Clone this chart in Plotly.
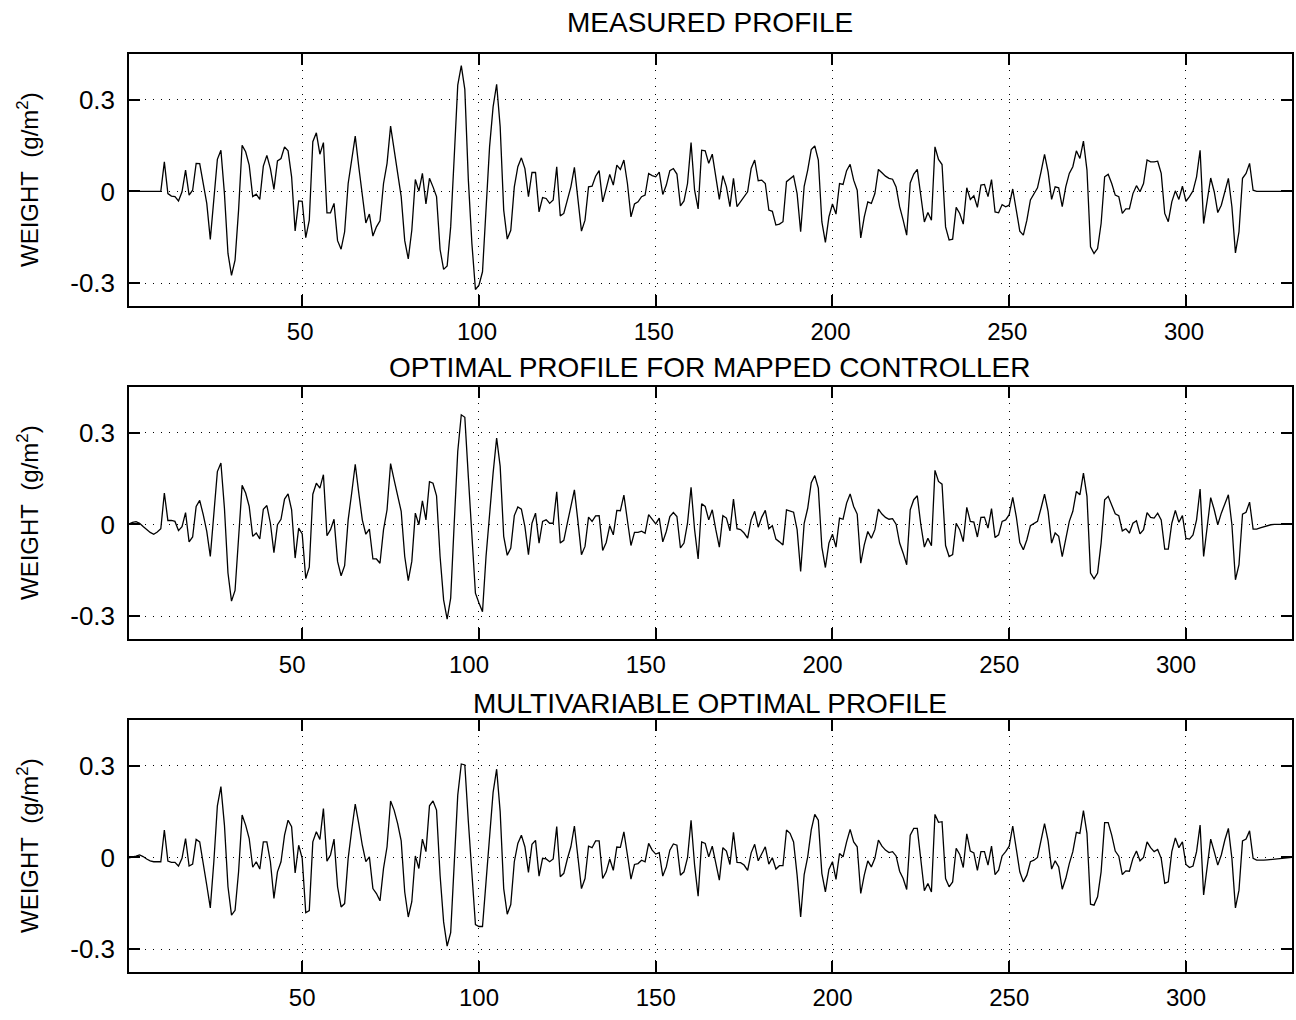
import plotly.graph_objects as go

# ---------------- data ----------------
x_index = list(range(1, 331))

measured = [
0,0,0,0,0,0,0,0,0,0,
0.097,-0.007,-0.015,-0.017,-0.031,-0.001,0.070,-0.012,0.004,0.092,
0.091,0.026,-0.039,-0.157,-0.028,0.105,0.135,-0.007,-0.203,-0.275,
-0.225,-0.061,0.151,0.130,0.086,-0.017,-0.009,-0.026,0.083,0.118,
0.075,0.007,0.100,0.108,0.146,0.133,0.048,-0.129,-0.031,-0.032,
-0.151,-0.094,0.163,0.192,0.122,0.160,-0.070,-0.070,-0.039,-0.161,
-0.189,-0.132,0.026,0.103,0.181,0.081,-0.017,-0.103,-0.074,-0.146,
-0.116,-0.096,0.026,0.092,0.214,0.135,0.059,-0.017,-0.161,-0.221,
-0.127,0.039,0.001,0.059,-0.041,0.043,0.015,-0.017,-0.190,-0.255,
-0.244,-0.116,0.113,0.348,0.412,0.334,0.037,-0.170,-0.321,-0.307,
-0.263,-0.061,0.146,0.277,0.351,0.212,-0.061,-0.156,-0.127,0.015,
0.081,0.110,0.075,-0.017,0.062,0.062,-0.067,-0.020,-0.023,-0.039,
-0.028,0.081,-0.080,-0.072,-0.028,0.015,0.079,-0.017,-0.130,-0.094,
0.015,0.017,0.050,0.068,-0.034,0.010,0.056,0.021,0.086,0.072,
0.103,0.026,-0.083,-0.041,-0.034,-0.017,-0.012,0.059,0.052,0.048,
0.063,-0.010,0.021,0.068,0.075,0.057,-0.047,-0.031,0.026,0.160,
0.004,-0.057,0.135,0.133,0.092,0.122,0.048,-0.026,0.052,0.015,
-0.050,0.043,-0.050,-0.034,-0.015,-0.001,0.075,0.103,0.035,0.037,
0.026,-0.061,-0.065,-0.110,-0.107,-0.099,0.032,0.043,0.051,-0.007,
-0.132,0.017,0.070,0.137,0.149,0.103,-0.099,-0.167,-0.083,-0.041,
-0.074,0.026,0.023,0.068,0.089,0.037,0.004,-0.152,-0.083,-0.034,
-0.039,-0.007,0.072,0.061,0.050,0.043,0.040,0.015,-0.050,-0.094,
-0.143,0.028,0.057,0.072,-0.017,-0.100,-0.069,-0.094,0.146,0.105,
0.088,-0.116,-0.159,-0.156,-0.052,-0.072,-0.107,0.012,-0.026,-0.014,
-0.052,0.021,0.023,-0.017,0.039,-0.067,-0.070,-0.043,-0.050,-0.045,
0.008,-0.061,-0.130,-0.143,-0.094,-0.028,-0.007,0.012,0.064,0.121,
0.064,-0.026,0.015,0.012,-0.050,0.015,0.059,0.081,0.133,0.108,
0.165,0.070,-0.181,-0.203,-0.187,-0.105,0.048,0.056,0.026,-0.012,
-0.017,-0.072,-0.057,-0.057,-0.007,0.019,-0.001,0.026,0.103,0.097,
0.097,0.099,0.059,-0.072,-0.099,-0.034,0.002,-0.026,0.017,-0.032,
-0.017,0.002,0.048,0.135,-0.105,-0.028,0.044,-0.001,-0.069,-0.045,
0.004,0.043,-0.050,-0.201,-0.132,0.043,0.059,0.092,0.004,0,
0,0,0,0,0,0,0,0,0,0,
]

mapped = [
0.002,0.007,0.009,0.004,-0.007,-0.017,-0.026,-0.032,-0.025,-0.014,
0.103,0.013,0.013,0.010,-0.020,-0.007,0.039,-0.057,-0.041,0.059,
0.079,0.032,-0.023,-0.105,0.026,0.173,0.201,0.053,-0.159,-0.251,
-0.216,-0.050,0.128,0.103,0.059,-0.039,-0.028,-0.047,0.050,0.062,
0.004,-0.092,-0.001,0.017,0.083,0.100,0.048,-0.110,-0.012,-0.031,
-0.177,-0.140,0.099,0.135,0.119,0.163,-0.037,-0.017,0.017,-0.121,
-0.168,-0.135,0.015,0.103,0.197,0.103,0.015,-0.032,-0.015,-0.113,
-0.113,-0.127,-0.017,0.048,0.199,0.146,0.092,0.043,-0.105,-0.184,
-0.121,0.037,-0.001,0.077,0.015,0.140,0.135,0.094,-0.105,-0.247,
-0.310,-0.241,0.004,0.239,0.359,0.351,0.155,-0.039,-0.225,-0.257,
-0.286,-0.105,0.037,0.168,0.283,0.190,-0.039,-0.101,-0.077,0.029,
0.057,0.050,-0.007,-0.099,0.004,0.037,-0.061,0.010,0.015,0.004,
0.004,0.107,-0.061,-0.052,0.004,0.057,0.113,0.010,-0.099,-0.072,
0.024,0.010,0.028,0.029,-0.085,-0.059,-0.004,-0.034,0.046,0.045,
0.096,0.013,-0.069,-0.026,-0.026,-0.022,-0.029,0.032,0.017,0.002,
0.021,-0.057,-0.023,0.026,0.039,0.026,-0.077,-0.061,0.004,0.122,
-0.017,-0.113,0.068,0.059,0.015,0.048,-0.017,-0.074,0.029,0.021,
-0.021,0.083,-0.014,-0.017,-0.028,-0.045,0.015,0.043,-0.009,0.024,
0.046,-0.014,-0.004,-0.048,-0.057,-0.067,0.048,0.045,0.040,-0.017,
-0.154,0.004,0.053,0.137,0.160,0.119,-0.074,-0.141,-0.061,-0.032,
-0.074,0.021,0.017,0.070,0.100,0.059,0.034,-0.127,-0.067,-0.023,
-0.045,-0.017,0.050,0.034,0.023,0.017,0.019,0.001,-0.061,-0.094,
-0.132,0.048,0.081,0.094,-0.001,-0.074,-0.045,-0.070,0.177,0.141,
0.132,-0.069,-0.105,-0.099,0.004,-0.017,-0.056,0.056,0.010,0.008,
-0.041,0.023,0.024,-0.012,0.052,-0.043,-0.034,0.010,0.015,0.032,
0.089,0.026,-0.059,-0.083,-0.050,-0.004,0.002,0.010,0.053,0.099,
0.043,-0.061,-0.028,-0.039,-0.105,-0.050,0.010,0.043,0.108,0.097,
0.168,0.092,-0.159,-0.178,-0.159,-0.061,0.081,0.092,0.064,0.035,
0.029,-0.021,-0.014,-0.028,0.004,0.012,-0.031,-0.017,0.039,0.023,
0.021,0.037,0.015,-0.081,-0.081,0.004,0.046,0.007,0.029,-0.046,
-0.048,-0.034,0.015,0.116,-0.105,-0.007,0.088,0.048,-0.001,0.037,
0.070,0.097,-0.001,-0.181,-0.132,0.034,0.040,0.073,-0.015,-0.015,
-0.011,-0.007,-0.003,-0.001,0,0,0,0,0,0,
]

multivariable = [
-0.001,0.001,0.004,0.008,0.003,-0.005,-0.011,-0.014,-0.014,-0.014,
0.090,-0.012,-0.016,-0.016,-0.028,-0.003,0.062,-0.028,-0.022,0.059,
0.051,-0.014,-0.091,-0.165,-0.014,0.169,0.232,0.106,-0.096,-0.189,
-0.173,-0.047,0.139,0.106,0.062,-0.032,-0.014,-0.038,0.051,0.051,
-0.014,-0.134,-0.047,-0.014,0.073,0.122,0.101,-0.051,0.040,-0.003,
-0.181,-0.174,0.051,0.084,0.059,0.160,-0.012,0.008,0.060,-0.096,
-0.162,-0.151,-0.003,0.090,0.175,0.111,0.040,-0.014,0.002,-0.102,
-0.118,-0.142,-0.036,0.035,0.185,0.155,0.111,0.054,-0.113,-0.195,
-0.145,0.005,-0.036,0.060,0.019,0.169,0.185,0.155,-0.058,-0.211,
-0.290,-0.246,-0.025,0.204,0.306,0.303,0.117,-0.058,-0.220,-0.226,
-0.226,-0.080,0.084,0.213,0.289,0.150,-0.102,-0.186,-0.154,-0.014,
0.046,0.073,0.035,-0.049,0.043,0.056,-0.061,-0.003,-0.005,-0.014,
-0.005,0.101,-0.063,-0.052,-0.005,0.035,0.103,0.008,-0.102,-0.069,
0.037,0.032,0.054,0.054,-0.069,-0.047,-0.005,-0.042,0.034,0.033,
0.084,0.008,-0.071,-0.023,-0.020,-0.009,-0.014,0.046,0.024,0.011,
0.016,-0.061,-0.031,0.024,0.044,0.040,-0.058,-0.047,-0.001,0.122,
-0.025,-0.127,0.051,0.046,0.002,0.037,-0.020,-0.074,0.032,0.021,
-0.023,0.082,-0.016,-0.017,-0.025,-0.042,0.015,0.043,-0.011,0.013,
0.035,-0.022,-0.001,-0.038,-0.027,-0.027,0.090,0.079,0.051,-0.058,
-0.195,-0.056,0.002,0.090,0.141,0.122,-0.052,-0.113,-0.039,-0.014,
-0.072,0.013,0.002,0.051,0.092,0.051,0.035,-0.118,-0.058,-0.011,
-0.031,-0.003,0.057,0.037,0.024,0.016,0.019,0.005,-0.045,-0.069,
-0.105,0.073,0.095,0.095,0.002,-0.109,-0.085,-0.113,0.141,0.115,
0.117,-0.069,-0.096,-0.080,0.030,0.010,-0.033,0.077,0.021,0.015,
-0.042,0.019,0.019,-0.025,0.037,-0.056,-0.042,0.005,0.019,0.037,
0.103,0.035,-0.047,-0.080,-0.058,-0.014,-0.009,0.000,0.051,0.111,
0.054,-0.038,-0.011,-0.031,-0.104,-0.069,-0.020,0.019,0.082,0.079,
0.153,0.079,-0.153,-0.156,-0.129,-0.047,0.114,0.114,0.073,0.021,
0.004,-0.056,-0.044,-0.045,-0.003,0.021,-0.011,0.000,0.051,0.032,
0.019,0.026,-0.003,-0.085,-0.080,0.019,0.064,0.032,0.051,-0.023,
-0.033,-0.028,0.019,0.106,-0.123,-0.031,0.060,0.019,-0.025,0.008,
0.057,0.095,-0.003,-0.165,-0.107,0.054,0.060,0.087,-0.003,-0.009,
-0.010,-0.009,-0.008,-0.007,-0.005,-0.004,-0.003,-0.002,-0.001,0.000,
]

titles = ["MEASURED PROFILE",
          "OPTIMAL PROFILE FOR MAPPED CONTROLLER",
          "MULTIVARIABLE OPTIMAL PROFILE"]
x_ticks = [50, 100, 150, 200, 250, 300]
y_ticks = [-0.3, 0, 0.3]
y_tick_text = ["-0.3", "0", "0.3"]
y_label = "WEIGHT\u00a0 (g/m<sup>2</sup>)"

# ---------------- figure ----------------
W, H = 1296, 1020
FONT = "Liberation Sans, Arial, Helvetica, sans-serif"
series = [measured, mapped, multivariable]
# pixel frames (top, bottom) of each panel
frames = [(54, 306), (387, 639), (720, 972)]
title_y = [22, 367, 703]
label_shift = [-2, -10, 0]
x_left, x_right = 129, 1292

fig = go.Figure()
layout = dict(
    width=W, height=H,
    margin=dict(l=0, r=0, t=0, b=0),
    paper_bgcolor="white", plot_bgcolor="white",
    showlegend=False,
    font=dict(family=FONT, color="black", size=24),
    annotations=[],
)

for i, (vals, (top, bot)) in enumerate(zip(series, frames)):
    n = "" if i == 0 else str(i + 1)
    fig.add_trace(go.Scatter(x=x_index, y=vals, mode="lines",
                             line=dict(color="black", width=1.3),
                             xaxis="x" + n, yaxis="y" + n))
    common = dict(showline=True, linecolor="black", linewidth=1.5,
                  mirror="ticks", ticks="inside", ticklen=11,
                  tickwidth=1.5, tickcolor="black",
                  showgrid=True, gridcolor="black", gridwidth=1,
                  griddash="1px,7px", zeroline=False)
    layout["xaxis" + n] = dict(
        common, range=[1, 330],
        domain=[x_left / W, x_right / W],
        anchor="y" + n, tickmode="array", tickvals=x_ticks,
        tickfont=dict(family=FONT, size=24, color="black"),
        ticklabelshift=label_shift[i], ticklabelstandoff=3)
    layout["yaxis" + n] = dict(
        common, range=[-0.375, 0.45],
        domain=[1 - bot / H, 1 - top / H],
        anchor="x" + n, tickmode="array", tickvals=y_ticks,
        ticktext=y_tick_text, ticklabelstandoff=7,
        tickfont=dict(family=FONT, size=26, color="black"))
    layout["annotations"].append(dict(
        text=titles[i], xref="paper", yref="paper",
        x=710 / W, y=1 - title_y[i] / H, xanchor="center", yanchor="middle",
        showarrow=False, font=dict(family=FONT, size=28, color="black")))
    layout["annotations"].append(dict(
        text=y_label, xref="paper", yref="paper",
        x=28 / W, y=1 - (top + bot) / 2 / H, xanchor="center",
        yanchor="middle", textangle=-90, showarrow=False,
        font=dict(family=FONT, size=24, color="black")))

fig.update_layout(**layout)
fig.write_html(
    "out.html",
    config={"displayModeBar": False},
    post_script="document.body.style.margin='0';document.body.style.padding='0';",
)
